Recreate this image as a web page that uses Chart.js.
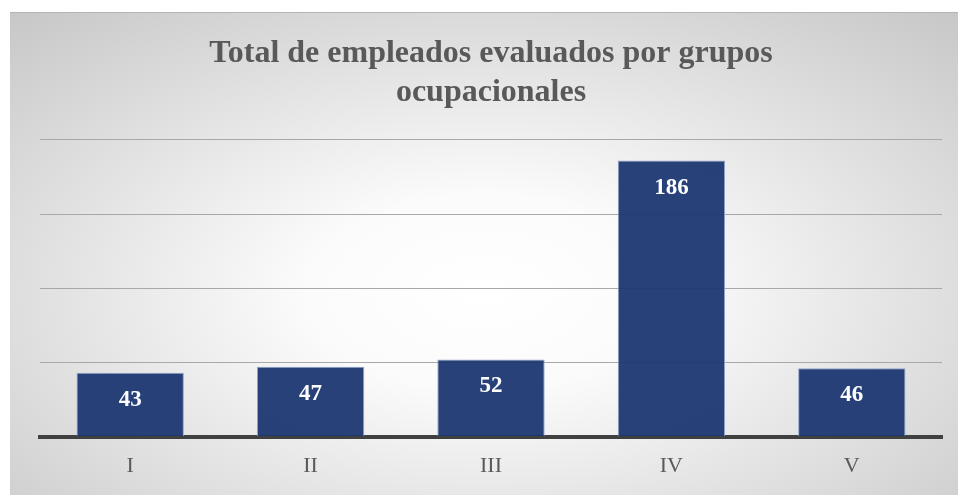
<!DOCTYPE html>
<html>
<head>
<meta charset="utf-8">
<script src="https://cdn.jsdelivr.net/npm/chart.js@4"></script>
<style>
    html, body { margin: 0; padding: 0; background: #ffffff; }
    #chart-box {
        position: absolute;
        left: 10px;
        top: 12px;
        width: 948px;
        height: 483px;
        border-top: 1px solid #b4b4b4;
        box-sizing: border-box;
        background: radial-gradient(ellipse 75% 80% at 50% 58%, #ffffff 0%, #fbfbfb 25%, #c6c6c6 100%);
    }
</style>
</head>
<body>
<div id="chart-box"><canvas id="employees-chart"></canvas></div>
<script>
const groupLabels = ["I", "II", "III", "IV", "V"];
const employeeCounts = [43, 47, 52, 186, 46];
const chartTitle = ["Total de empleados evaluados por grupos", "ocupacionales"];

const serif = "'Liberation Serif', 'Times New Roman', serif";

// white value labels drawn near the top of each bar
const barValueLabels = {
    id: "barValueLabels",
    afterDatasetsDraw(chart) {
        const ctx = chart.ctx;
        const meta = chart.getDatasetMeta(0);
        ctx.save();
        ctx.fillStyle = "#ffffff";
        ctx.font = "bold 23px " + serif;
        ctx.textAlign = "center";
        ctx.textBaseline = "middle";
        meta.data.forEach((bar, i) => {
            ctx.fillText(employeeCounts[i], bar.x, bar.y + 27);
        });
        ctx.restore();
    }
};

function renderEmployeesChart() {
    const ctx = document.getElementById("employees-chart").getContext("2d");

    new Chart(ctx, {
        type: "bar",
        data: {
            labels: groupLabels,
            datasets: [{
                data: employeeCounts,
                backgroundColor: "rgba(28, 56, 114, 0.95)",
                borderColor: "#8fa3c9",
                borderWidth: 1,
                categoryPercentage: 1,
                barPercentage: 0.595
            }]
        },
        options: {
            responsive: true,
            maintainAspectRatio: false,
            animation: false,
            layout: {
                padding: { left: 30, right: 16, top: 0, bottom: 0 }
            },
            plugins: {
                legend: { display: false },
                tooltip: { enabled: false },
                title: {
                    display: true,
                    text: chartTitle,
                    color: "#595959",
                    font: { family: serif, size: 32, weight: "bold", lineHeight: 1.2 },
                    padding: { top: 22, bottom: 28 }
                }
            },
            scales: {
                x: {
                    z: 1,
                    grid: { display: false, drawTicks: false },
                    border: { display: true, color: "#404040", width: 4 },
                    ticks: {
                        color: "#595959",
                        font: { family: serif, size: 22 },
                        padding: 16
                    }
                },
                y: {
                    min: 0,
                    max: 200,
                    ticks: { display: false, stepSize: 50 },
                    grid: { color: "#a8a8a8", lineWidth: 1, drawTicks: false },
                    border: { display: false }
                }
            }
        },
        plugins: [barValueLabels]
    });
}

renderEmployeesChart();
</script>
</body>
</html>
